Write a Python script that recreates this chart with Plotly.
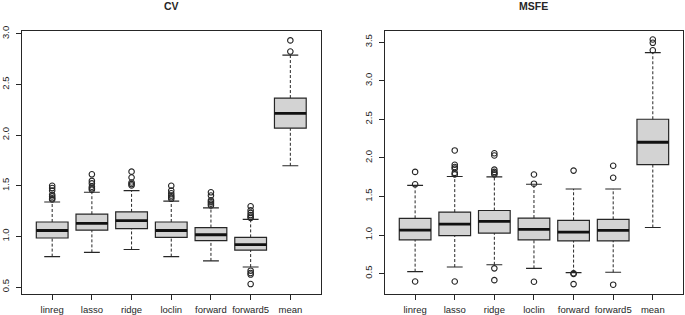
import plotly.graph_objects as go

categories = ["linreg", "lasso", "ridge", "loclin", "forward", "forward5", "mean"]

# CV panel stats
cv_q1 = [0.984, 1.061, 1.077, 0.990, 0.958, 0.865, 2.068]
cv_med = [1.058, 1.129, 1.155, 1.058, 1.016, 0.919, 2.214]
cv_q3 = [1.142, 1.219, 1.242, 1.142, 1.087, 0.990, 2.366]
cv_lo = [0.800, 0.842, 0.871, 0.800, 0.758, 0.697, 1.697]
cv_hi = [1.339, 1.435, 1.452, 1.348, 1.281, 1.168, 2.790]
cv_out = [
    [1.500, 1.477, 1.452, 1.410, 1.394, 1.377, 1.365],
    [1.613, 1.548, 1.523, 1.490, 1.474, 1.461],
    [1.639, 1.581, 1.532, 1.516, 1.503],
    [1.500, 1.452, 1.426, 1.403, 1.387, 1.371],
    [1.435, 1.403, 1.355, 1.339, 1.323, 1.306],
    [1.297, 1.258, 1.232, 1.210, 1.194, 1.181, 0.661, 0.639, 0.623, 0.529],
    [2.935, 2.825],
]

# MSFE panel stats
ms_q1 = [0.936, 0.992, 1.025, 0.936, 0.924, 0.924, 1.911]
ms_med = [1.064, 1.140, 1.178, 1.072, 1.038, 1.059, 2.202]
ms_q3 = [1.216, 1.297, 1.318, 1.220, 1.191, 1.203, 2.500]
ms_lo = [0.525, 0.585, 0.614, 0.568, 0.513, 0.517, 1.097]
ms_hi = [1.644, 1.758, 1.754, 1.657, 1.597, 1.597, 3.364]
ms_out = [
    [1.818, 1.657, 0.398],
    [2.096, 1.911, 1.881, 1.860, 1.805, 1.784, 0.398],
    [2.060, 2.030, 1.847, 1.818, 1.801, 1.784, 0.568, 0.415],
    [1.784, 1.665, 0.394],
    [1.835, 0.504, 0.496, 0.364],
    [1.898, 1.742, 0.356],
    [3.534, 3.491, 3.394],
]

cv_yticks = [0.5, 1.0, 1.5, 2.0, 2.5, 3.0]
ms_yticks = [0.5, 1.0, 1.5, 2.0, 2.5, 3.0, 3.5]

INK = "#262626"
FILL = "#d3d3d3"
FONT = "Liberation Sans, Arial, sans-serif"

fig = go.Figure()
pos = list(range(1, len(categories) + 1))


def add_panel(q1, med, q3, lo, hi, outs, xa, ya):
    fig.add_trace(go.Box(
        x=pos, q1=q1, median=med, q3=q3, lowerfence=q1, upperfence=q3,
        width=0.8, whiskerwidth=0, fillcolor=FILL,
        line=dict(color=INK, width=1.2), boxpoints=False,
        xaxis=xa, yaxis=ya, showlegend=False, hoverinfo="skip"))
    # thick median
    mx, my = [], []
    for p, m in zip(pos, med):
        mx += [p - 0.4, p + 0.4, None]
        my += [m, m, None]
    fig.add_trace(go.Scatter(x=mx, y=my, mode="lines",
                             line=dict(color="#111111", width=2.8),
                             xaxis=xa, yaxis=ya, showlegend=False, hoverinfo="skip"))
    # dashed whiskers
    wx, wy = [], []
    for p, a, b, c, d in zip(pos, lo, q1, q3, hi):
        wx += [p, p, None, p, p, None]
        wy += [a, b, None, c, d, None]
    fig.add_trace(go.Scatter(x=wx, y=wy, mode="lines",
                             line=dict(color=INK, width=1, dash="3px,2px"),
                             xaxis=xa, yaxis=ya, showlegend=False, hoverinfo="skip"))
    # staples
    sx, sy = [], []
    for p, a, d in zip(pos, lo, hi):
        sx += [p - 0.2, p + 0.2, None, p - 0.2, p + 0.2, None]
        sy += [a, a, None, d, d, None]
    fig.add_trace(go.Scatter(x=sx, y=sy, mode="lines",
                             line=dict(color=INK, width=1.1),
                             xaxis=xa, yaxis=ya, showlegend=False, hoverinfo="skip"))
    # outliers
    ox, oy = [], []
    for p, o in zip(pos, outs):
        ox += [p] * len(o)
        oy += o
    fig.add_trace(go.Scatter(x=ox, y=oy, mode="markers",
                             marker=dict(symbol="circle-open", size=5.5, color=INK,
                                         line=dict(width=1.1, color=INK)),
                             xaxis=xa, yaxis=ya, showlegend=False, hoverinfo="skip"))


add_panel(cv_q1, cv_med, cv_q3, cv_lo, cv_hi, cv_out, "x", "y")
add_panel(ms_q1, ms_med, ms_q3, ms_lo, ms_hi, ms_out, "x2", "y2")

W, H = 685, 315
ydom = [1 - 294.5 / H, 1 - 26.5 / H]

common_x = dict(range=[0.23, 7.77], tickvals=pos, ticktext=categories,
                ticks="outside", ticklen=5, tickcolor=INK, showline=True,
                linecolor=INK, linewidth=1, mirror=True, showgrid=False,
                zeroline=False, ticklabelstandoff=2,
                tickfont=dict(family=FONT, size=9.5, color=INK))
common_y = dict(ticks="outside", ticklen=5, tickcolor=INK, showline=True,
                linecolor=INK, linewidth=1, mirror=True, showgrid=False,
                zeroline=False, tickangle=-90, ticklabelstandoff=3,
                tickfont=dict(family=FONT, size=9.5, color=INK))

fig.update_layout(
    width=W, height=H, autosize=False,
    margin=dict(l=0, r=0, t=0, b=0),
    paper_bgcolor="white", plot_bgcolor="white",
    xaxis=dict(domain=[18.7 / W, 319.3 / W], anchor="y", **common_x),
    yaxis=dict(domain=ydom, anchor="x", range=[0.432, 3.028],
               tickvals=cv_yticks, ticktext=[f"{v:.1f}" for v in cv_yticks], **common_y),
    xaxis2=dict(domain=[383.3 / W, 683.3 / W], anchor="y2", **common_x),
    yaxis2=dict(domain=ydom, anchor="x2", range=[0.237, 3.644],
                tickvals=ms_yticks, ticktext=[f"{v:.1f}" for v in ms_yticks], **common_y),
    annotations=[
        dict(text="<b>CV</b>", x=169 / W, y=1 - 1 / H, xref="paper", yref="paper",
             xanchor="center", yanchor="middle",
             showarrow=False, font=dict(family=FONT, size=10.5, color=INK)),
        dict(text="<b>MSFE</b>", x=533.3 / W, y=1 - 1 / H, xref="paper", yref="paper",
             xanchor="center", yanchor="middle",
             showarrow=False, font=dict(family=FONT, size=10.5, color=INK)),
    ],
)

fig.write_html(
    "out.html",
    config={"displayModeBar": False},
    post_script="document.body.style.margin='0';document.body.style.overflow='hidden';",
)
